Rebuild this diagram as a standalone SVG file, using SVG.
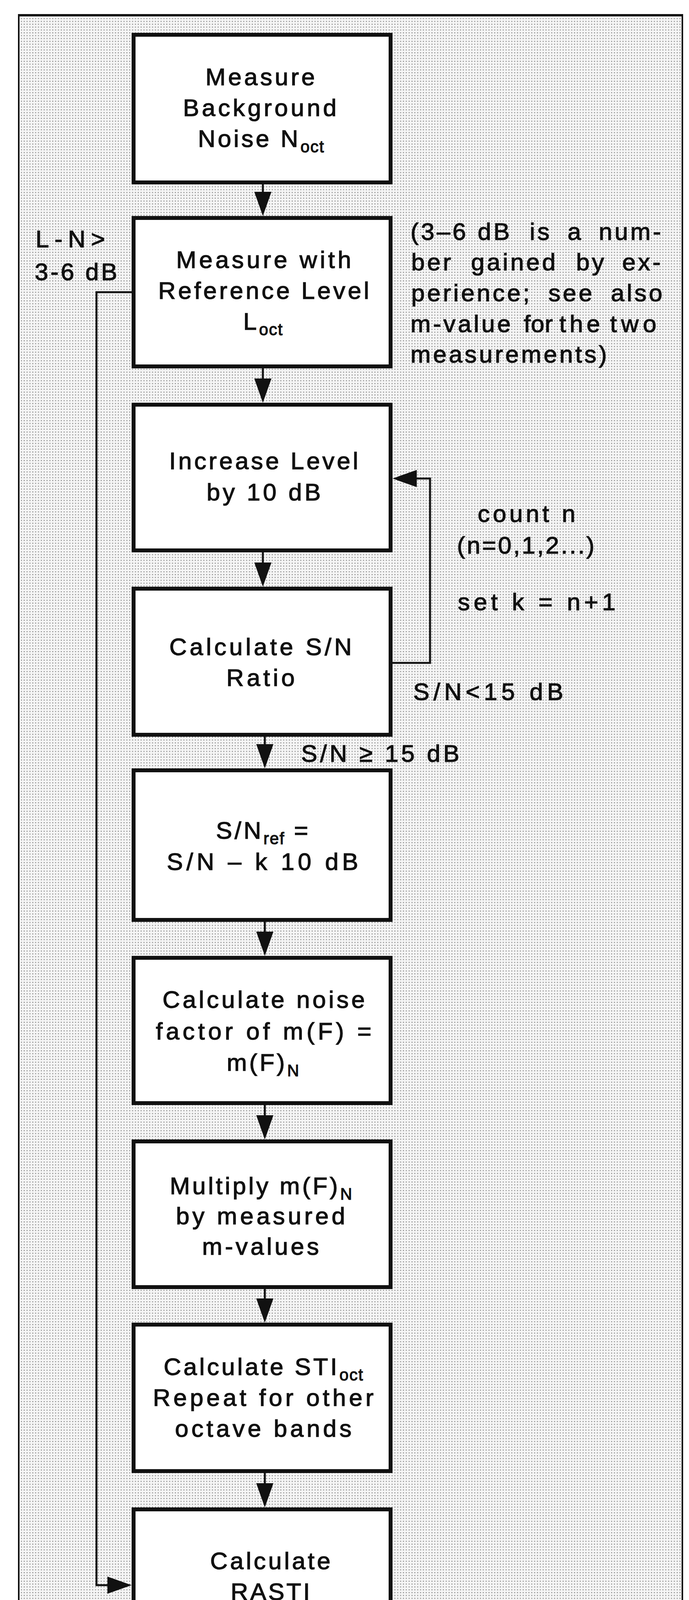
<svg xmlns="http://www.w3.org/2000/svg" width="1764" height="4268" viewBox="0 0 1764 4268">
<defs>
<pattern id="dots" width="7.3" height="7.3" patternUnits="userSpaceOnUse">
<rect width="7.3" height="7.3" fill="#f5f5f5"/>
<circle cx="3.65" cy="3.65" r="1.4" fill="#7a7a7a"/>
</pattern>
<marker id="ah" markerUnits="userSpaceOnUse" markerWidth="62" markerHeight="44" refX="52" refY="22" orient="auto" viewBox="0 0 62 44">
<path d="M0,0 L62,22 L0,44 Z" fill="#111"/>
</marker>
<style>
.bx{fill:#fff;stroke:#111;stroke-width:10}
.t{font-family:"Liberation Sans",Arial,Helvetica,sans-serif;font-size:62px;fill:#111;stroke:#111;stroke-width:1.5;text-anchor:middle}
.ts{letter-spacing:6px}
.sub{font-size:42px;letter-spacing:2px}
.lab{font-family:"Liberation Sans",Arial,Helvetica,sans-serif;font-size:62px;fill:#111;stroke:#111;stroke-width:1.5}
.note{letter-spacing:6px}
.cn{fill:none;stroke:#111;stroke-width:5;marker-end:url(#ah)}
</style>
</defs>
<rect width="1764" height="4268" fill="#fff"/>
<g id="frame">
<rect x="48" y="39" width="1699" height="4250" fill="url(#dots)" stroke="#111" stroke-width="4"/>
<line x1="46" y1="39" x2="1749" y2="39" stroke="#111" stroke-width="6"/>
</g>
<g id="connectors">
<path class="cn" d="M673,472 V543"/>
<path class="cn" d="M673,943 V1021"/>
<path class="cn" d="M673,1414 V1492"/>
<path class="cn" d="M678,1886 V1957"/>
<path class="cn" d="M678,2360 V2437"/>
<path class="cn" d="M678,2829 V2907"/>
<path class="cn" d="M678,3300 V3376"/>
<path class="cn" d="M678,3771 V3849"/>
<path class="cn" d="M1005,1697 H1101 V1225 H1015"/>
<path class="cn" d="M337,748 H247 V4058 H327"/>
</g>
<g id="n1">
<rect class="bx" x="342" y="89" width="658" height="378"/>
<text class="t" x="666" y="218" textLength="280" lengthAdjust="spacing">Measure</text>
<text class="t" x="665" y="297" textLength="393" lengthAdjust="spacing">Background</text>
<text class="t ts" x="669" y="376">Noise N<tspan class="sub" dy="14">oct</tspan></text>
</g>
<g id="n2">
<rect class="bx" x="342" y="558" width="658" height="380"/>
<text class="t" x="675" y="686" textLength="448" lengthAdjust="spacing">Measure with</text>
<text class="t" x="675" y="765" textLength="540" lengthAdjust="spacing">Reference Level</text>
<text class="t ts" x="674" y="844">L<tspan class="sub" dy="14">oct</tspan></text>
</g>
<g id="n3">
<rect class="bx" x="342" y="1036" width="658" height="373"/>
<text class="t" x="675" y="1201" textLength="484" lengthAdjust="spacing">Increase Level</text>
<text class="t" x="675" y="1281" textLength="292" lengthAdjust="spacing">by 10 dB</text>
</g>
<g id="n4">
<rect class="bx" x="342" y="1507" width="658" height="374"/>
<text class="t" x="667" y="1677" textLength="467" lengthAdjust="spacing">Calculate S/N</text>
<text class="t" x="667" y="1756" textLength="175" lengthAdjust="spacing">Ratio</text>
</g>
<g id="n5">
<rect class="bx" x="342" y="1972" width="658" height="383"/>
<text class="t ts" x="674" y="2147">S/N<tspan class="sub" dy="14">ref</tspan><tspan dy="-14"> =</tspan></text>
<text class="t" x="672" y="2227" textLength="490" lengthAdjust="spacing">S/N – k 10 dB</text>
</g>
<g id="n6">
<rect class="bx" x="342" y="2452" width="658" height="372"/>
<text class="t" x="675" y="2580" textLength="518" lengthAdjust="spacing">Calculate noise</text>
<text class="t" x="675" y="2661" textLength="552" lengthAdjust="spacing">factor of m(F) =</text>
<text class="t ts" x="674" y="2741">m(F)<tspan class="sub" dy="14">N</tspan></text>
</g>
<g id="n7">
<rect class="bx" x="342" y="2922" width="658" height="373"/>
<text class="t ts" x="669" y="3057">Multiply m(F)<tspan class="sub" dy="14">N</tspan></text>
<text class="t" x="667" y="3134" textLength="433" lengthAdjust="spacing">by measured</text>
<text class="t" x="667" y="3212" textLength="299" lengthAdjust="spacing">m-values</text>
</g>
<g id="n8">
<rect class="bx" x="342" y="3391" width="658" height="375"/>
<text class="t ts" x="675" y="3520">Calculate STI<tspan class="sub" dy="14">oct</tspan></text>
<text class="t" x="674" y="3599" textLength="565" lengthAdjust="spacing">Repeat for other</text>
<text class="t" x="674" y="3678" textLength="452" lengthAdjust="spacing">octave bands</text>
</g>
<g id="n9">
<rect class="bx" x="342" y="3864" width="658" height="376"/>
<text class="t" x="692" y="4017" textLength="308" lengthAdjust="spacing">Calculate</text>
<text class="t" x="692" y="4096" textLength="203" lengthAdjust="spacing">RASTI</text>
</g>
<g id="labels">
<text class="lab" x="91" y="633" textLength="178" lengthAdjust="spacing">L-N&gt;</text>
<text class="lab" x="89" y="717" textLength="211" lengthAdjust="spacing">3-6 dB</text>
<text class="lab note" y="614"><tspan x="1051">(3–6</tspan><tspan x="1223">dB </tspan><tspan x="1356">is </tspan><tspan x="1453">a </tspan><tspan x="1533">num-</tspan></text>
<text class="lab note" y="692"><tspan x="1053">ber </tspan><tspan x="1206">gained </tspan><tspan x="1475">by </tspan><tspan x="1593">ex-</tspan></text>
<text class="lab note" y="771"><tspan x="1053">perience; </tspan><tspan x="1404">see </tspan><tspan x="1564">also</tspan></text>
<text class="lab note" y="850"><tspan x="1051">m-value </tspan><tspan x="1341" style="letter-spacing:1px">for </tspan><tspan x="1432" style="letter-spacing:9px">the </tspan><tspan x="1562" style="letter-spacing:11px">two</tspan></text>
<text class="lab note" x="1051" y="928">measurements)</text>
<text class="lab" x="1223" y="1336" textLength="250" lengthAdjust="spacing">count n</text>
<text class="lab" x="1170" y="1417" textLength="352" lengthAdjust="spacing">(n=0,1,2...)</text>
<text class="lab" x="1172" y="1562" textLength="404" lengthAdjust="spacing">set k = n+1</text>
<text class="lab" x="1058" y="1792" textLength="384" lengthAdjust="spacing">S/N&lt;15 dB</text>
<text class="lab" x="771" y="1950" textLength="405" lengthAdjust="spacing">S/N ≥ 15 dB</text>
<text class="lab" x="1723" y="4262" font-size="47" font-weight="bold" font-style="italic" text-anchor="end">880788</text>
</g>
</svg>
